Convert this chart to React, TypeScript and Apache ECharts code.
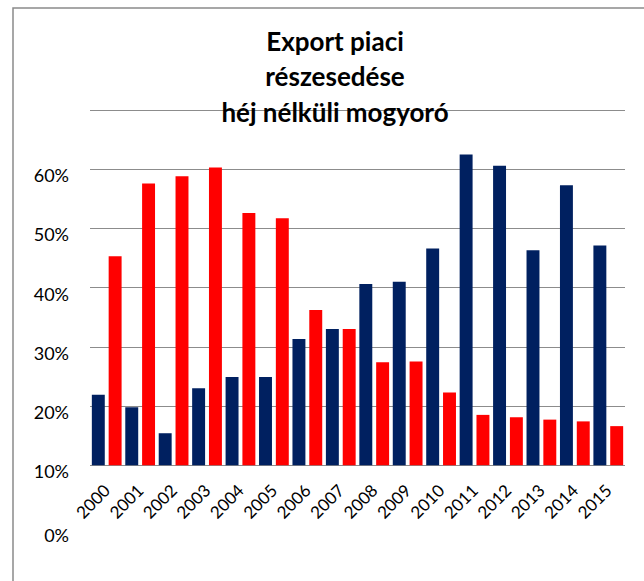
import React, { useEffect, useRef } from "react";
import * as echarts from "echarts";

const years = ["2000","2001","2002","2003","2004","2005","2006","2007","2008","2009","2010","2011","2012","2013","2014","2015"];
const blueShare = [0.219, 0.198, 0.154, 0.230, 0.249, 0.249, 0.313, 0.330, 0.406, 0.410, 0.466, 0.625, 0.606, 0.463, 0.573, 0.471];
const redShare = [0.453, 0.576, 0.588, 0.603, 0.526, 0.517, 0.362, 0.330, 0.274, 0.275, 0.223, 0.185, 0.181, 0.177, 0.174, 0.166];
const crossing = 0.1;
const titleText = "Export piaci\nrészesedése\nhéj nélküli mogyoró";

export default function App() {
  const ref = useRef<HTMLDivElement>(null);
  useEffect(() => {
    if (!ref.current) return;
    const chart = echarts.init(ref.current, null, { renderer: "svg" });
    const base = years.map(() => crossing);
    const font = "Lato";
    chart.setOption({
      animation: false,
      backgroundColor: "#ffffff",
      title: {
        text: titleText,
        left: 330,
        textAlign: "center",
        top: 18,
        textStyle: { fontFamily: font, fontWeight: "bold", fontSize: 26, lineHeight: 35.5, color: "#000" },
      },
      graphic: [
        {
          type: "rect",
          shape: { x: 13, y: 8, width: 800, height: 800 },
          style: { fill: "none", stroke: "#8a8a8a", lineWidth: 1.5 },
          silent: true,
        },
      ],
      grid: { left: 90, right: 19, top: 110, bottom: 56.6, containLabel: false },
      xAxis: {
        type: "category",
        data: years,
        offset: -59.2,
        axisLine: { show: false },
        axisTick: { show: false },
        axisLabel: { rotate: 45, margin: 22, fontFamily: font, fontSize: 17, color: "#000", interval: 0 },
      },
      yAxis: {
        type: "value",
        min: 0,
        max: 0.7,
        interval: 0.1,
        axisLine: { show: false },
        axisTick: { show: false },
        axisLabel: {
          showMaxLabel: false,
          margin: 21,
          formatter: (v: number) => (v === 0 ? "{z|0%}" : "{n|" + Math.round(v * 100) + "%}"),
          rich: {
            n: { fontFamily: font, fontSize: 18, color: "#000", padding: [12, 0, 0, 0] },
            z: { fontFamily: font, fontSize: 18, color: "#000", padding: [22, 0, 0, 0] },
          },
        },
        splitLine: {
          lineStyle: {
            color: ["rgba(0,0,0,0)", "#8c8c8c", "#8c8c8c", "#8c8c8c", "#8c8c8c", "#8c8c8c", "#8c8c8c", "#8c8c8c"],
            width: 1,
          },
        },
      },
      series: [
        { type: "bar", stack: "blue", data: base, itemStyle: { color: "rgba(0,0,0,0)" }, silent: true },
        { type: "bar", stack: "blue", data: blueShare.map((v) => v - crossing), itemStyle: { color: "#002060" } },
        { type: "bar", stack: "red", data: base, itemStyle: { color: "rgba(0,0,0,0)" }, silent: true },
        {
          type: "bar",
          stack: "red",
          data: redShare.map((v) => v - crossing),
          itemStyle: { color: "#ff0000" },
          barGap: "30%",
          barCategoryGap: "11%",
        },
      ],
    });
    return () => chart.dispose();
  }, []);
  return <div ref={ref} style={{ position: "fixed", left: 0, top: 0, width: 644, height: 581 }} />;
}
